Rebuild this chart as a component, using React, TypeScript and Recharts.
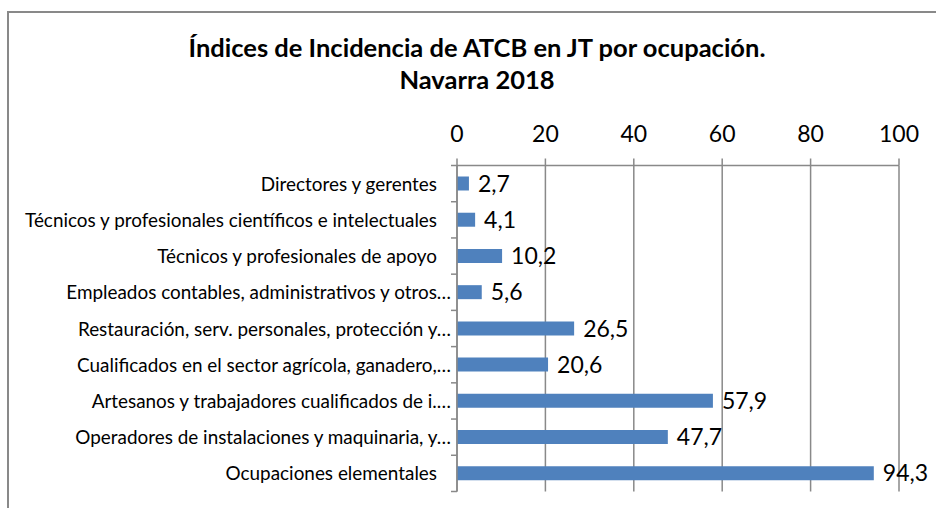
import { BarChart, Bar, XAxis, YAxis, CartesianGrid, LabelList } from 'recharts'

const ocupaciones = [
  'Directores y gerentes',
  'Técnicos y profesionales científicos e intelectuales',
  'Técnicos y profesionales de apoyo',
  'Empleados contables, administrativos y otros…',
  'Restauración, serv. personales, protección y…',
  'Cualificados en el sector agrícola, ganadero,…',
  'Artesanos y trabajadores cualificados de i.…',
  'Operadores de instalaciones y maquinaria, y…',
  'Ocupaciones elementales',
]
const indices = [2.7, 4.1, 10.2, 5.6, 26.5, 20.6, 57.9, 47.7, 94.3]
const xTicks = [0, 20, 40, 60, 80, 100]

const data = ocupaciones.map((nombre, i) => ({ nombre, indice: indices[i] }))

const FONT = 'Lato, "Open Sans", sans-serif'
const GRIS = '#898989'

// Excel pone las marcas del eje de categorías entre las barras, no en el centro
function CategoriaTick(props: any) {
  const { x, y, payload, index, visibleTicksCount } = props
  const half = payload?.offset ?? 18
  const texto: string = payload.value
  const recortado = texto.endsWith('…')
  const last = index === visibleTicksCount - 1
  return (
    <g>
      <line x1={x} x2={x + 6} y1={y - half} y2={y - half} stroke={GRIS} strokeWidth={1.5} />
      {last && <line x1={x} x2={x + 6} y1={y + half} y2={y + half} stroke={GRIS} strokeWidth={1.5} />}
      <text
        x={recortado ? x : x - 14}
        y={y}
        dy={7}
        textAnchor="end"
        fontSize={18.9}
        fontFamily={FONT}
        fill="#000"
      >
        {texto}
      </text>
    </g>
  )
}

const fmt = (v: any) => Number(v).toFixed(1).replace('.', ',')

export default function App() {
  return (
    <div style={{ position: 'absolute', left: 0, top: 0, width: 936, height: 508, overflow: 'hidden', background: '#fff' }}>
      <div
        style={{
          position: 'absolute', left: 7, top: 11, width: 960, height: 560,
          border: `2px solid ${GRIS}`, boxSizing: 'border-box',
        }}
      />
      <div
        style={{
          position: 'absolute', left: 0, top: 31, width: 954, textAlign: 'center',
          fontFamily: FONT, fontWeight: 700, fontSize: 25.5, lineHeight: '32px', color: '#000',
        }}
      >
        Índices de Incidencia de ATCB en JT por ocupación.
        <br />
        Navarra 2018
      </div>
      <div style={{ position: 'absolute', left: 0, top: 0 }}>
        <BarChart
          width={936}
          height={508}
          data={data}
          layout="vertical"
          margin={{ top: 125, right: 37, bottom: 16.5, left: 8 }}
        >
          <CartesianGrid horizontal={false} stroke={GRIS} strokeWidth={1.5} />
          <XAxis
            type="number"
            orientation="top"
            domain={[0, 100]}
            ticks={xTicks}
            height={40.5}
            tickSize={7}
            tickMargin={17}
            axisLine={{ stroke: GRIS, strokeWidth: 1.5 }}
            tickLine={{ stroke: GRIS, strokeWidth: 1.5 }}
            tick={{ fontSize: 23, fontFamily: FONT, fill: '#000' }}
          />
          <YAxis
            type="category"
            dataKey="nombre"
            width={449}
            tickSize={6}
            tickMargin={0}
            tickLine={false}
            interval={0}
            axisLine={{ stroke: GRIS, strokeWidth: 1.5 }}
            tick={<CategoriaTick />}
          />
          <Bar dataKey="indice" fill="#4F81BD" barSize={14} isAnimationActive={false}>
            <LabelList
              dataKey="indice"
              position="right"
              offset={9}
              formatter={fmt}
              style={{ fontSize: 23, fontFamily: FONT, fill: '#000' }}
            />
          </Bar>
        </BarChart>
      </div>
    </div>
  )
}
